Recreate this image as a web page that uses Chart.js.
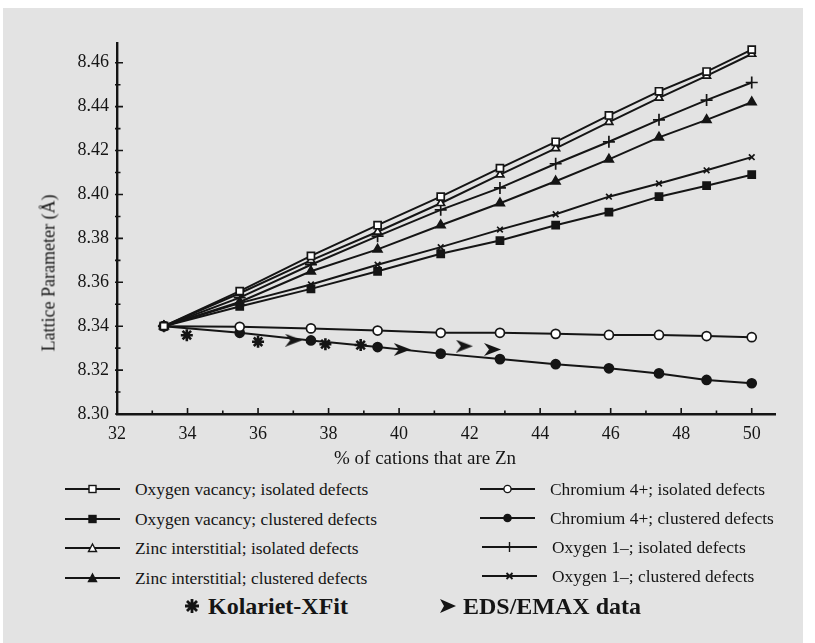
<!DOCTYPE html>
<html>
<head>
<meta charset="utf-8">
<script src="https://cdn.jsdelivr.net/npm/chart.js@4"></script>
<style>
  body { margin: 0; background: #fff; width: 815px; height: 643px; overflow: hidden; position: relative; font-family: "Liberation Serif", serif; color: #151515; }
  .paper { position: absolute; left: 3px; top: 8px; width: 800px; height: 635px; background: #e3e3e3; }
  #chart { position: absolute; left: 0; top: 0; }
  .ytitle { position: absolute; left: 49px; top: 273px; transform: translate(-50%, -50%) rotate(-90deg); font-size: 18px; white-space: nowrap; }
  .xtitle { position: absolute; left: 425px; top: 458px; transform: translate(-50%, -50%); font-size: 19px; white-space: nowrap; }
  .item { position: absolute; height: 20px; display: flex; align-items: center; font-size: 17.4px; white-space: nowrap; }
  .item svg { margin-right: 15px; }
  .big { font-size: 24px; font-weight: bold; height: 26px; }
  .big svg { margin-right: 6px; }
</style>
</head>
<body>
<div class="paper"></div>
<canvas id="chart" width="815" height="470"></canvas>
<div class="ytitle">Lattice Parameter (Å)</div>
<div class="xtitle">% of cations that are Zn</div>
<div id="legend"></div>

<script>
// % of cations that are Zn
const znPercent = [33.33, 35.48, 37.50, 39.39, 41.18, 42.86, 44.44, 45.95, 47.37, 48.72, 50.00];

// lattice parameter (Å) for each model
const oxyVacIsolated   = [8.340, 8.356, 8.372, 8.386, 8.399, 8.412, 8.424, 8.436, 8.447, 8.456, 8.466];
const oxyVacClustered  = [8.340, 8.349, 8.357, 8.365, 8.373, 8.379, 8.386, 8.392, 8.399, 8.404, 8.409];
const zincIsolated     = [8.340, 8.355, 8.370, 8.383, 8.396, 8.409, 8.421, 8.433, 8.444, 8.454, 8.464];
const zincClustered    = [8.340, 8.351, 8.365, 8.375, 8.386, 8.396, 8.406, 8.416, 8.426, 8.434, 8.442];
const chromIsolated    = [8.340, 8.3397, 8.339, 8.338, 8.337, 8.337, 8.3365, 8.336, 8.336, 8.3355, 8.335];
const chromClustered   = [8.340, 8.337, 8.3335, 8.3305, 8.3275, 8.325, 8.3227, 8.3208, 8.3185, 8.3155, 8.314];
const oxy1Isolated     = [8.340, 8.353, 8.368, 8.381, 8.393, 8.403, 8.414, 8.424, 8.434, 8.443, 8.451];
const oxy1Clustered    = [8.340, 8.3505, 8.359, 8.368, 8.376, 8.384, 8.391, 8.399, 8.405, 8.411, 8.417];

// measured points
const kolarietX = [33.98, 36.00, 37.91, 38.91];
const kolarietY = [8.3359, 8.3329, 8.3318, 8.3314];
const edsX = [37.01, 40.09, 41.85, 42.65];
const edsY = [8.3336, 8.3294, 8.3309, 8.3294];

// axis ticks
const xTicks = [32, 34, 36, 38, 40, 42, 44, 46, 48, 50];
const yTicks = [8.30, 8.32, 8.34, 8.36, 8.38, 8.40, 8.42, 8.44, 8.46];

const ink = '#151515';
const serif = "'Liberation Serif', 'Times New Roman', serif";

// arrowhead marker for the EDS/EMAX points
const arrow = document.createElement('canvas');
arrow.width = 17; arrow.height = 13;
const actx = arrow.getContext('2d');
actx.fillStyle = ink;
actx.beginPath();
actx.moveTo(0, 0); actx.lineTo(17, 6.5); actx.lineTo(0, 13); actx.lineTo(5, 6.5);
actx.closePath(); actx.fill();

function pairs(xs, ys) {
    return xs.map((x, i) => ({ x: x, y: ys[i] }));
}

function series(label, values, style, filled, radius) {
    return {
        label: label,
        data: pairs(znPercent, values),
        borderColor: ink,
        borderWidth: 2,
        pointStyle: style,
        pointRadius: radius || 4.5,
        pointBorderWidth: 1.7,
        pointBorderColor: ink,
        pointBackgroundColor: filled ? ink : '#fff',
        showLine: true,
        tension: 0
    };
}

// inward tick marks, major and minor
const tickMarks = {
    id: 'tickMarks',
    afterDraw(chart) {
        const ctx = chart.ctx, xs = chart.scales.x, ys = chart.scales.y, a = chart.chartArea;
        ctx.save();
        ctx.strokeStyle = ink;
        ctx.lineWidth = 1.6;
        ctx.beginPath();
        for (let v = 32; v <= 50; v++) {
            const px = xs.getPixelForValue(v);
            const len = v % 2 === 0 ? 6 : 3.5;
            ctx.moveTo(px, a.bottom); ctx.lineTo(px, a.bottom - len);
        }
        for (let i = 0; i <= 16; i++) {
            const py = ys.getPixelForValue(8.30 + i * 0.01);
            const len = i % 2 === 0 ? 6 : 3.5;
            ctx.moveTo(a.left - 2, py); ctx.lineTo(a.left + len, py);
        }
        ctx.stroke();
        ctx.restore();
    }
};

new Chart(document.getElementById('chart'), {
    type: 'scatter',
    data: {
        datasets: [
            series('Oxygen vacancy; isolated defects', oxyVacIsolated, 'rect', false, 5),
            series('Zinc interstitial; isolated defects', zincIsolated, 'triangle', false),
            series('Oxygen 1–; isolated defects', oxy1Isolated, 'cross', false, 6),
            series('Zinc interstitial; clustered defects', zincClustered, 'triangle', true, 5),
            series('Oxygen 1–; clustered defects', oxy1Clustered, 'crossRot', false, 4),
            series('Oxygen vacancy; clustered defects', oxyVacClustered, 'rect', true, 5),
            series('Chromium 4+; isolated defects', chromIsolated, 'circle', false),
            series('Chromium 4+; clustered defects', chromClustered, 'circle', true),
            {
                label: 'Kolariet-XFit',
                data: pairs(kolarietX, kolarietY),
                showLine: false,
                pointStyle: 'star',
                pointRadius: 6,
                pointBorderWidth: 2.6,
                borderColor: ink,
                pointBorderColor: ink
            },
            {
                label: 'EDS/EMAX data',
                data: pairs(edsX, edsY),
                showLine: false,
                pointStyle: arrow,
                pointRadius: 7
            }
        ]
    },
    options: {
        responsive: false,
        animation: false,
        clip: false,
        layout: { padding: { top: 43, right: 40, left: 0, bottom: 0 } },
        plugins: { legend: { display: false }, tooltip: { enabled: false } },
        scales: {
            x: {
                type: 'linear',
                min: 32,
                max: 50.66,
                afterBuildTicks: s => { s.ticks = xTicks.map(v => ({ value: v })); },
                afterFit: s => { s.height = 56; },
                grid: { display: false, drawTicks: false },
                border: { display: true, color: ink, width: 2.4 },
                ticks: { color: ink, padding: 9, maxRotation: 0, autoSkip: false,
                         font: { family: serif, size: 18 } }
            },
            y: {
                type: 'linear',
                min: 8.30,
                max: 8.469,
                afterBuildTicks: s => { s.ticks = yTicks.map(v => ({ value: v })); },
                afterFit: s => { s.width = 117; },
                grid: { display: false, drawTicks: false },
                border: { display: true, color: ink, width: 2.4 },
                ticks: { color: ink, padding: 8, autoSkip: false,
                         callback: v => v.toFixed(2),
                         font: { family: serif, size: 18 } }
            }
        }
    },
    plugins: [tickMarks]
});

// legend (html, small svg keys)
const legendItems = [
    { text: 'Oxygen vacancy; isolated defects',    shape: 'square',   fill: false, x: 65,  y: 489 },
    { text: 'Oxygen vacancy; clustered defects',   shape: 'square',   fill: true,  x: 65,  y: 519 },
    { text: 'Zinc interstitial; isolated defects', shape: 'triangle', fill: false, x: 65,  y: 548 },
    { text: 'Zinc interstitial; clustered defects', shape: 'triangle', fill: true, x: 65,  y: 578 },
    { text: 'Chromium 4+; isolated defects',       shape: 'circle',   fill: false, x: 480, y: 489 },
    { text: 'Chromium 4+; clustered defects',      shape: 'circle',   fill: true,  x: 480, y: 518 },
    { text: 'Oxygen 1–; isolated defects',         shape: 'plus',     fill: false, x: 482, y: 547 },
    { text: 'Oxygen 1–; clustered defects',        shape: 'xmark',    fill: false, x: 482, y: 576 }
];

function keySvg(shape, fill) {
    const f = fill ? ink : '#fff';
    let m = '';
    if (shape === 'square') m = `<rect x="24" y="6.5" width="7" height="7" fill="${f}" stroke="${ink}" stroke-width="1.4"/>`;
    if (shape === 'triangle') m = `<polygon points="27.5,6 31.5,13.5 23.5,13.5" fill="${f}" stroke="${ink}" stroke-width="1.4"/>`;
    if (shape === 'circle') m = `<circle cx="27.5" cy="10" r="3.6" fill="${f}" stroke="${ink}" stroke-width="1.4"/>`;
    if (shape === 'plus') m = `<line x1="27.5" y1="5" x2="27.5" y2="15" stroke="${ink}" stroke-width="1.4"/>`;
    if (shape === 'xmark') m = `<path d="M24.5 7 L30.5 13 M30.5 7 L24.5 13" stroke="${ink}" stroke-width="1.8"/>`;
    return `<svg width="55" height="20"><line x1="0" y1="10" x2="55" y2="10" stroke="${ink}" stroke-width="2"/>${m}</svg>`;
}

const legend = document.getElementById('legend');
legendItems.forEach(it => {
    const d = document.createElement('div');
    d.className = 'item';
    d.style.left = it.x + 'px';
    d.style.top = (it.y - 10) + 'px';
    d.innerHTML = keySvg(it.shape, it.fill) + '<span>' + it.text + '</span>';
    legend.appendChild(d);
});

const bigItems = [
    { text: 'Kolariet-XFit', x: 182, y: 606,
      svg: `<svg width="20" height="20"><path d="M10 3 V17 M3 10 H17 M5 5 L15 15 M15 5 L5 15" stroke="${ink}" stroke-width="2.8"/></svg>` },
    { text: 'EDS/EMAX data', x: 439, y: 606,
      svg: `<svg width="18" height="20"><polygon points="1,3 17,10 1,17 5,10" fill="${ink}"/></svg>` }
];
bigItems.forEach(it => {
    const d = document.createElement('div');
    d.className = 'item big';
    d.style.left = it.x + 'px';
    d.style.top = (it.y - 13) + 'px';
    d.innerHTML = it.svg + '<span>' + it.text + '</span>';
    legend.appendChild(d);
});
</script>
</body>
</html>
